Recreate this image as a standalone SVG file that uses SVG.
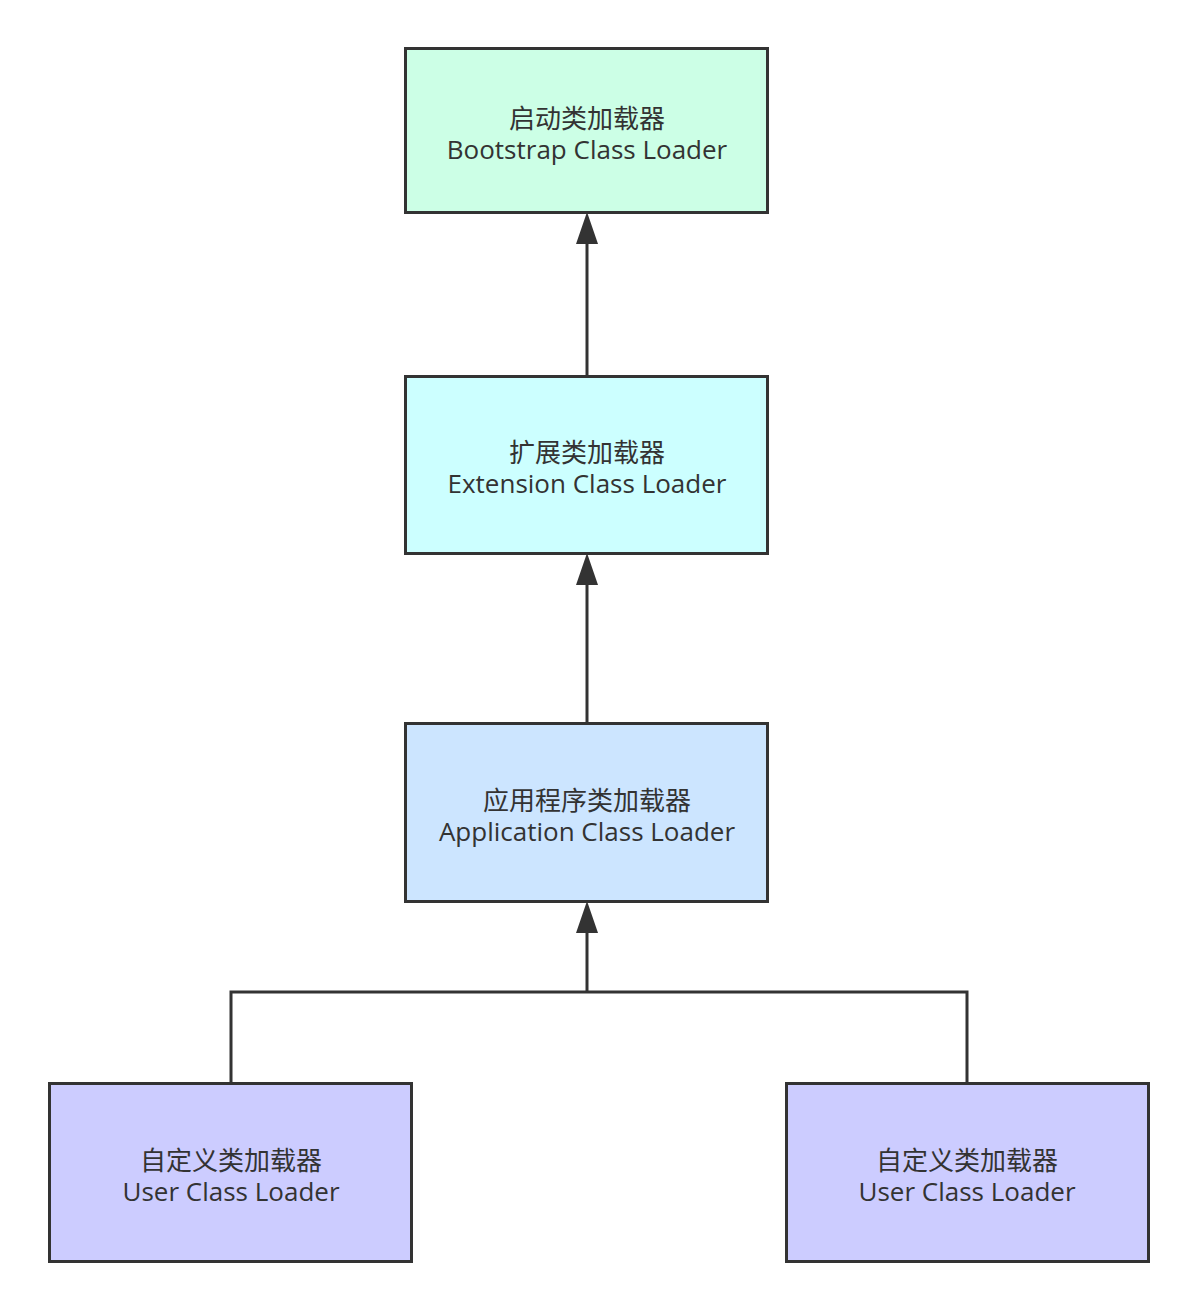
<svg xmlns="http://www.w3.org/2000/svg" width="1198" height="1312" viewBox="0 0 1198 1312">
<defs>
<style>
.box{stroke:#333333;stroke-width:3}
.t{font-family:"Open Sans","Noto Sans CJK SC",sans-serif;font-size:26px;fill:#333333;text-anchor:middle}
.zh{font-family:"Noto Sans CJK SC",sans-serif;font-size:26px;fill:#333333;text-anchor:middle}
.c{fill:none;stroke:#333333;stroke-width:3}
.ah{fill:#333333}
</style>
</defs>
<rect width="1198" height="1312" fill="#ffffff"/>
<g id="connectors">
<path class="c" d="M587,376 V243"/>
<path class="ah" d="M587,212 L576,244 L598,244 Z"/>
<path class="c" d="M587,723 V584"/>
<path class="ah" d="M587,553 L576,585 L598,585 Z"/>
<path class="c" d="M231,1083 V992 H967 V1083"/>
<path class="c" d="M587,992 V932"/>
<path class="ah" d="M587,901 L576,933 L598,933 Z"/>
</g>
<g id="bootstrap">
<rect class="box" x="405.5" y="48.5" width="362" height="164" fill="#CCFFE6"/>
<text class="zh" x="587" y="128">启动类加载器</text>
<text class="t" x="587" y="159">Bootstrap Class Loader</text>
</g>
<g id="extension">
<rect class="box" x="405.5" y="376.5" width="362" height="177" fill="#CCFFFF"/>
<text class="zh" x="587" y="462">扩展类加载器</text>
<text class="t" x="587" y="493">Extension Class Loader</text>
</g>
<g id="application">
<rect class="box" x="405.5" y="723.5" width="362" height="178" fill="#CCE5FF"/>
<text class="zh" x="587" y="810">应用程序类加载器</text>
<text class="t" x="587" y="841">Application Class Loader</text>
</g>
<g id="user1">
<rect class="box" x="49.5" y="1083.5" width="362" height="178" fill="#CCCCFF"/>
<text class="zh" x="231" y="1170">自定义类加载器</text>
<text class="t" x="231" y="1201">User Class Loader</text>
</g>
<g id="user2">
<rect class="box" x="786.5" y="1083.5" width="362" height="178" fill="#CCCCFF"/>
<text class="zh" x="967" y="1170">自定义类加载器</text>
<text class="t" x="967" y="1201">User Class Loader</text>
</g>
</svg>
